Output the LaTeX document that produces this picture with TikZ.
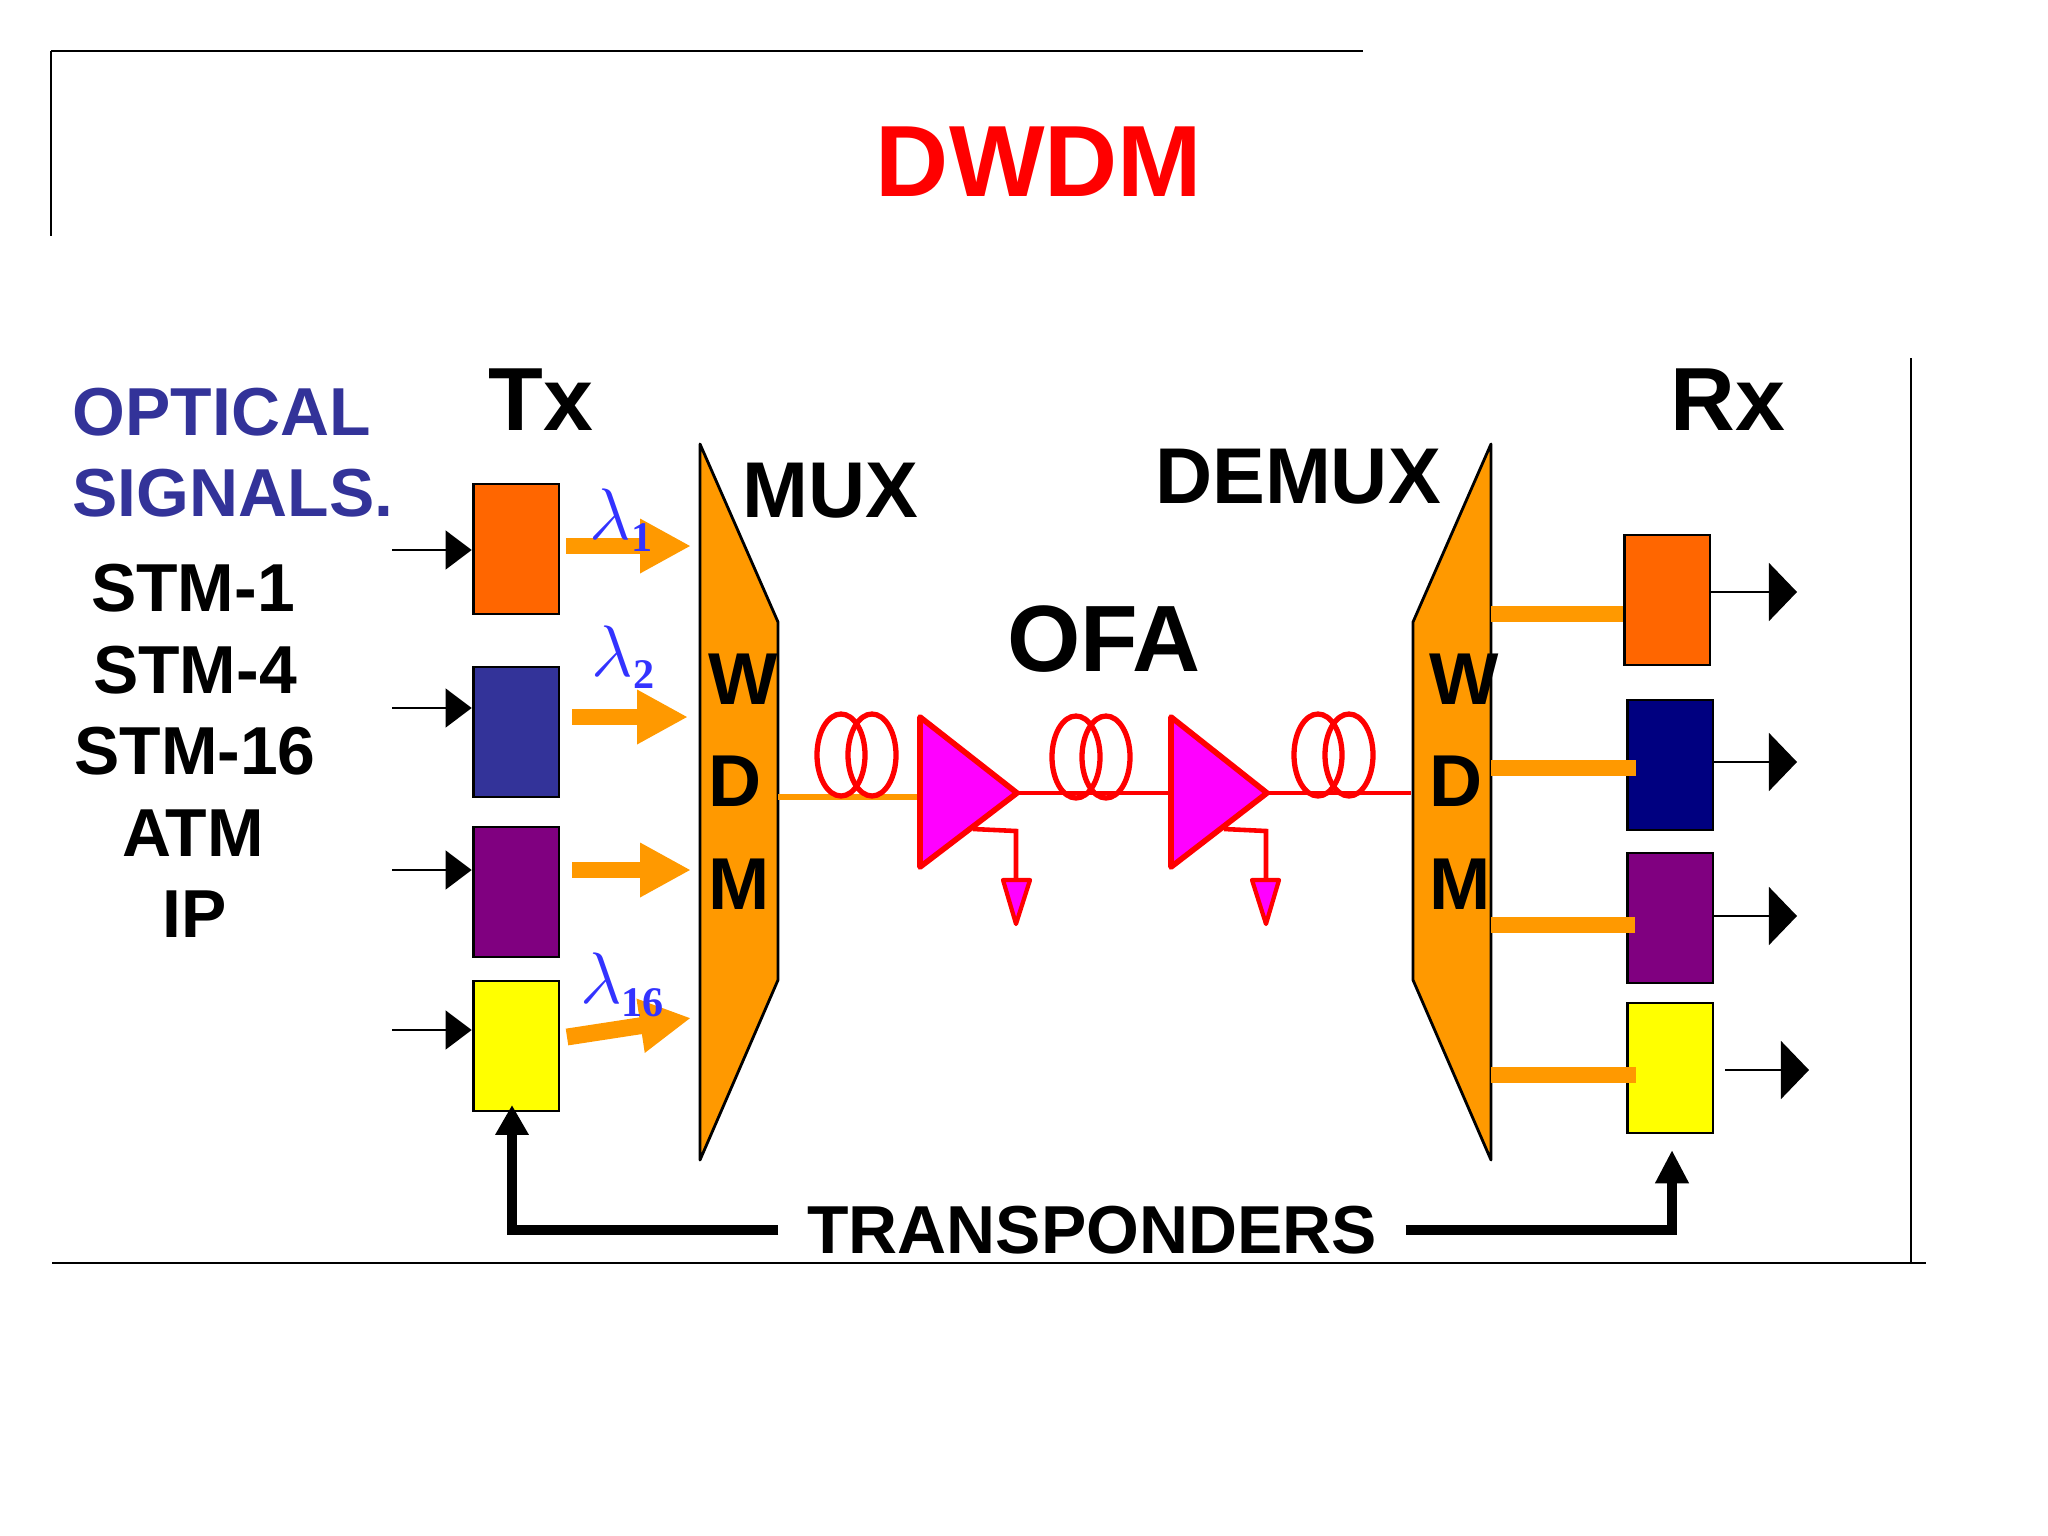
\documentclass[tikz,border=0pt]{standalone}
\usepackage{fontspec}
\setmainfont{Liberation Sans}
\newfontfamily\subfont{Liberation Serif}
\usetikzlibrary{arrows.meta}
\definecolor{wdmorange}{HTML}{FF9900}
\definecolor{boxorange}{HTML}{FF6600}
\definecolor{boxblue}{HTML}{333399}
\definecolor{boxnavy}{HTML}{000080}
\definecolor{boxpurple}{HTML}{800080}
\definecolor{boxyellow}{HTML}{FFFF00}
\definecolor{ampfill}{HTML}{FF00FF}
\definecolor{ampred}{HTML}{FF0000}
\definecolor{lambdablue}{HTML}{3333FF}
\newcommand{\bigfont}[1]{\fontsize{#1}{#1}\selectfont\bfseries}
\newcommand{\lamsub}[1]{$\lambda$\raisebox{-3.5pt}{\subfont\fontsize{12pt}{12pt}\selectfont\bfseries #1}}
\begin{document}
\begin{tikzpicture}[x=0.01cm, y=-0.01cm,
    txt/.style = {inner sep=0pt, text=black, font=\bigfont{19.3pt}},
    side/.style = {txt, text=boxblue, anchor=west},
    head/.style = {txt, font=\bigfont{25.5pt}},
    wdm/.style = {txt, font=\bigfont{20.9pt}},
    wave/.style = {inner sep=0pt, text=lambdablue, font=\fontsize{21pt}{21pt}\selectfont},
    box/.style = {draw, line width=0.8pt, minimum width=24.4pt, minimum height=37pt, inner sep=0pt},
    border/.style = {line width=0.7pt},
    trap/.style = {draw=black, fill=wdmorange, line width=0.8pt, line join=round},
    input/.style = {line width=0.6pt, -{Triangle[length=7.4pt, width=11pt]}},
    output/.style = {line width=0.6pt, -{Triangle[length=8pt, width=16.5pt]}},
    beam/.style = {wdmorange, line width=4.8pt, -{Triangle[length=14.5pt, width=14.5pt]}},
    stub/.style = {wdmorange, line width=4.6pt},
    thickline/.style = {line width=3pt},
    coil/.style = {ampred, line width=1.5pt},
    amp/.style = {draw=ampred, fill=ampfill, line width=1.6pt, line join=round},
    pump/.style = {draw=ampred, fill=ampfill, line width=1.2pt, line join=round}]

    \useasboundingbox (0,0) rectangle (2048,1536);

    \coordinate (f1) at (51,51);
    \coordinate (f2) at (1363,51);
    \coordinate (f3) at (51,236);
    \coordinate (f4) at (52,1263);
    \coordinate (f5) at (1926,1263);
    \coordinate (f6) at (1911,358);
    \coordinate (f7) at (1911,1263);
    \draw[border] (f1) -- (f2);
    \draw[border] (f1) -- (f3);
    \draw[border] (f4) -- (f5);
    \draw[border] (f6) -- (f7);

    \node[txt, text=ampred, font=\bigfont{28.8pt}] (title) at (1039,162) {DWDM};

    \node[side] (optical) at (72,412) {OPTICAL};
    \node[side] (signals) at (72,493) {SIGNALS.};
    \node[txt] (stm1) at (193,588) {STM-1};
    \node[txt] (stm4) at (195,670) {STM-4};
    \node[txt] (stm16) at (195,751) {STM-16};
    \node[txt] (atm) at (193,833) {ATM};
    \node[txt] (ip) at (195,914) {IP};

    \node[head] (tx) at (541,400) {Tx};
    \node[head] (rx) at (1728,400) {Rx};
    \node[head, font=\bigfont{22.5pt}] (muxlabel) at (830,491) {MUX};
    \node[head, font=\bigfont{22.5pt}] (demuxlabel) at (1298,477) {DEMUX};
    \node[head, font=\bigfont{26.8pt}] (ofa) at (1104,639) {OFA};

    \node[box, fill=boxorange] (t1) at (516,549) {};
    \node[box, fill=boxblue] (t2) at (516,732) {};
    \node[box, fill=boxpurple] (t3) at (516,892) {};
    \node[box, fill=boxyellow] (t4) at (516,1046) {};

    \node[box, fill=boxorange] (r1) at (1667,600) {};
    \node[box, fill=boxnavy] (r2) at (1670,765) {};
    \node[box, fill=boxpurple] (r3) at (1670,918) {};
    \node[box, fill=boxyellow] (r4) at (1670,1068) {};

    \draw[trap] (700,444) -- (778,622) -- (778,980) -- (700,1160) -- cycle;
    \draw[trap] (1491,444) -- (1413,622) -- (1413,980) -- (1491,1160) -- cycle;

    \node[wdm] (w1) at (743,679) {W};
    \node[wdm] (d1) at (735,781) {D};
    \node[wdm] (m1) at (739,884) {M};
    \node[wdm] (w2) at (1464,679) {W};
    \node[wdm] (d2) at (1456,781) {D};
    \node[wdm] (m2) at (1460,884) {M};

    \coordinate (i1) at (392,550);
    \coordinate (i2) at (392,708);
    \coordinate (i3) at (392,870);
    \coordinate (i4) at (392,1030);
    \draw[input] (i1) -- (i1 -| t1.west);
    \draw[input] (i2) -- (i2 -| t2.west);
    \draw[input] (i3) -- (i3 -| t3.west);
    \draw[input] (i4) -- (i4 -| t4.west);

    \coordinate (b1) at (566,546);
    \coordinate (c1) at (691,546);
    \coordinate (b2) at (572,717);
    \coordinate (c2) at (688,717);
    \coordinate (b3) at (572,870);
    \coordinate (c3) at (691,870);
    \coordinate (b4) at (567,1037);
    \coordinate (c4) at (691,1018);
    \draw[beam] (b1) -- (c1);
    \draw[beam] (b2) -- (c2);
    \draw[beam] (b3) -- (c3);
    \draw[beam] (b4) -- (c4);

    \node[wave] (l1) at (621,520) {\lamsub{1}};
    \node[wave] (l2) at (623,657) {\lamsub{2}};
    \node[wave] (l16) at (622,985) {\lamsub{16}};

    \coordinate (muxout) at (778,797);
    \coordinate (a1in) at (920,797);
    \coordinate (a1tip) at (1017,793);
    \coordinate (a2in) at (1171,793);
    \coordinate (a2tip) at (1267,793);
    \coordinate (demuxin) at (1411,793);
    \draw[wdmorange, line width=1.5pt] (muxout) -- (a1in);
    \draw[ampred, line width=1.4pt] (a1tip) -- (a2in);
    \draw[ampred, line width=1.4pt] (a2tip) -- (demuxin);

    \draw[coil] (841,755) ellipse (24 and 41);
    \draw[coil] (872,755) ellipse (24 and 41);
    \draw[coil] (1076,757) ellipse (24 and 41);
    \draw[coil] (1106,757) ellipse (24 and 41);
    \draw[coil] (1318,755) ellipse (24 and 41);
    \draw[coil] (1349,755) ellipse (24 and 41);

    \draw[amp] (920,717) -- (a1tip) -- (920,867) -- cycle;
    \draw[amp] (1171,717) -- (a2tip) -- (1171,867) -- cycle;

    \draw[ampred, line width=1.3pt] (973,829) -- (1016,831) -- (1016,880);
    \draw[ampred, line width=1.3pt] (1224,829) -- (1266,831) -- (1266,880);
    \draw[pump] (1003,880) -- (1030,880) -- (1016,924) -- cycle;
    \draw[pump] (1252,880) -- (1279,880) -- (1266,924) -- cycle;

    \coordinate (s1) at (1491,614);
    \coordinate (s2) at (1491,768);
    \coordinate (s3) at (1491,925);
    \coordinate (s4) at (1491,1075);
    \coordinate (e1) at (1623,614);
    \coordinate (e2) at (1636,768);
    \coordinate (e3) at (1635,925);
    \coordinate (e4) at (1636,1075);
    \draw[stub] (s1) -- (e1);
    \draw[stub] (s2) -- (e2);
    \draw[stub] (s3) -- (e3);
    \draw[stub] (s4) -- (e4);

    \coordinate (o1) at (1797,592);
    \coordinate (o2) at (1797,762);
    \coordinate (o3) at (1797,916);
    \coordinate (o4s) at (1725,1070);
    \coordinate (o4) at (1809,1070);
    \draw[output] (o1 -| r1.east) -- (o1);
    \draw[output] (o2 -| r2.east) -- (o2);
    \draw[output] (o3 -| r3.east) -- (o3);
    \draw[output] (o4s) -- (o4);

    \node[txt, inner xsep=8pt] (trans) at (1092,1230) {TRANSPONDERS};
    \coordinate (tl) at (512,1105);
    \coordinate (tr) at (1672,1150);
    \draw[thickline, -{Triangle[length=8.5pt, width=9pt]}] (trans.west) -| (tl);
    \draw[thickline, -{Triangle[length=9.5pt, width=9pt]}] (trans.east) -| (tr);

\end{tikzpicture}
\end{document}
